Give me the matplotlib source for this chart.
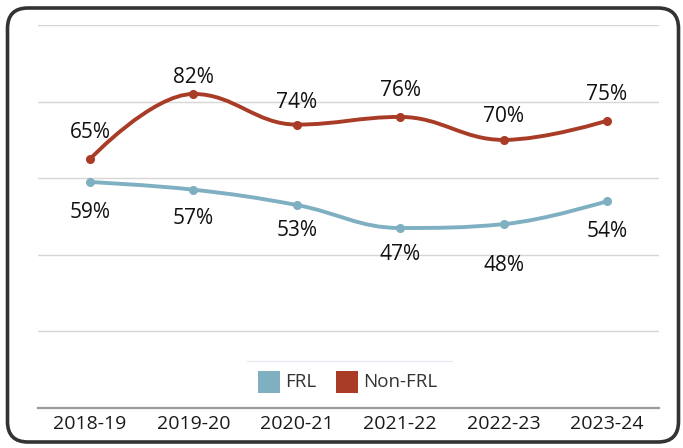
import matplotlib.pyplot as plt
from matplotlib.path import Path
from matplotlib.patches import PathPatch, FancyBboxPatch, Rectangle

years = ["2018-19", "2019-20", "2020-21", "2021-22", "2022-23", "2023-24"]
frl = [59, 57, 53, 47, 48, 54]
non_frl = [65, 82, 74, 76, 70, 75]

FRL_COLOR = "#7eb0c2"
NON_COLOR = "#a83c26"

plt.rcParams["font.family"] = ["Open Sans", "DejaVu Sans"]


def spline_path(xs, ys, smoothing=1.5):
    # highcharts-like spline: cubic bezier through every point
    denom = smoothing + 1
    n = len(xs)
    ctrl = []
    for i in range(n):
        x, y = xs[i], ys[i]
        if 0 < i < n - 1:
            lx, ly = xs[i - 1], ys[i - 1]
            nx, ny = xs[i + 1], ys[i + 1]
            lcx = (smoothing * x + lx) / denom
            lcy = (smoothing * y + ly) / denom
            rcx = (smoothing * x + nx) / denom
            rcy = (smoothing * y + ny) / denom
            corr = (rcy - lcy) * (rcx - x) / (rcx - lcx) + y - rcy
            lcy += corr
            rcy += corr
            if lcy > ly and lcy > y:
                lcy = max(ly, y)
                rcy = 2 * y - lcy
            elif lcy < ly and lcy < y:
                lcy = min(ly, y)
                rcy = 2 * y - lcy
            if rcy > ny and rcy > y:
                rcy = max(ny, y)
                lcy = 2 * y - rcy
            elif rcy < ny and rcy < y:
                rcy = min(ny, y)
                lcy = 2 * y - rcy
            ctrl.append(((lcx, lcy), (rcx, rcy)))
        else:
            ctrl.append(((x, y), (x, y)))
    verts = [(xs[0], ys[0])]
    codes = [Path.MOVETO]
    for i in range(1, n):
        verts += [ctrl[i - 1][1], ctrl[i][0], (xs[i], ys[i])]
        codes += [Path.CURVE4] * 3
    return Path(verts, codes)


fig = plt.figure(figsize=(6.83, 4.48), dpi=100)
ax = fig.add_axes([38.3 / 683, 40 / 448, 620.4 / 683, 383 / 448])

xs = list(range(len(years)))
for vals, color in [(frl, FRL_COLOR), (non_frl, NON_COLOR)]:
    ax.add_patch(PathPatch(spline_path(xs, vals), fill=False, edgecolor=color,
                           lw=2.8, capstyle="round", zorder=3))
    ax.plot(xs, vals, "o", color=color, ms=5.5, zorder=4)

non_off = [19, 12, 16, 19, 17, 19]
frl_off = [-22, -21, -18, -19, -30, -22]
for i in xs:
    ax.annotate(f"{non_frl[i]}%", (i, non_frl[i]), xytext=(0, non_off[i]),
                textcoords="offset points", ha="center", va="center",
                fontsize=15, color="#111111", zorder=5)
    ax.annotate(f"{frl[i]}%", (i, frl[i]), xytext=(0, frl_off[i]),
                textcoords="offset points", ha="center", va="center",
                fontsize=15, color="#111111", zorder=5)

ax.set_xlim(-0.5, len(years) - 0.5)
ax.set_ylim(0, 100)
ax.set_yticks([20, 40, 60, 80, 100])
ax.set_yticklabels([])
ax.grid(axis="y", color="#d6d6d6", lw=1)
ax.set_axisbelow(True)
ax.tick_params(axis="y", length=0)
ax.set_xticks(xs)
ax.set_xticklabels(years, fontsize=14, color="#1a1a1a")
ax.tick_params(axis="x", length=0, pad=5)
for s in ["top", "right", "left"]:
    ax.spines[s].set_visible(False)
ax.spines["bottom"].set_color("#9a9a9a")
ax.spines["bottom"].set_linewidth(1.6)

# legend
fig.add_artist(plt.Line2D([247 / 683, 452 / 683], [1 - 361 / 448] * 2,
                          color="#ebe6f2", lw=1))
fig.add_artist(Rectangle((258 / 683, 1 - 393 / 448), 22 / 683, 22 / 448,
                         facecolor=FRL_COLOR, edgecolor="none"))
fig.add_artist(Rectangle((336 / 683, 1 - 393 / 448), 22 / 683, 22 / 448,
                         facecolor=NON_COLOR, edgecolor="none"))
fig.text(285 / 683, 1 - 382 / 448, "FRL", fontsize=13.5, va="center", color="#333333")
fig.text(363 / 683, 1 - 382 / 448, "Non-FRL", fontsize=13.5, va="center", color="#333333")

# outer frame
fig.add_artist(FancyBboxPatch((7.5 / 683, 6 / 448), 671 / 683, 434 / 448,
                              boxstyle="round,pad=0,rounding_size=0.03",
                              transform=fig.transFigure, fill=False,
                              edgecolor="#333333", lw=2.6, mutation_aspect=683 / 448))

fig.savefig("out.png", dpi=100)
